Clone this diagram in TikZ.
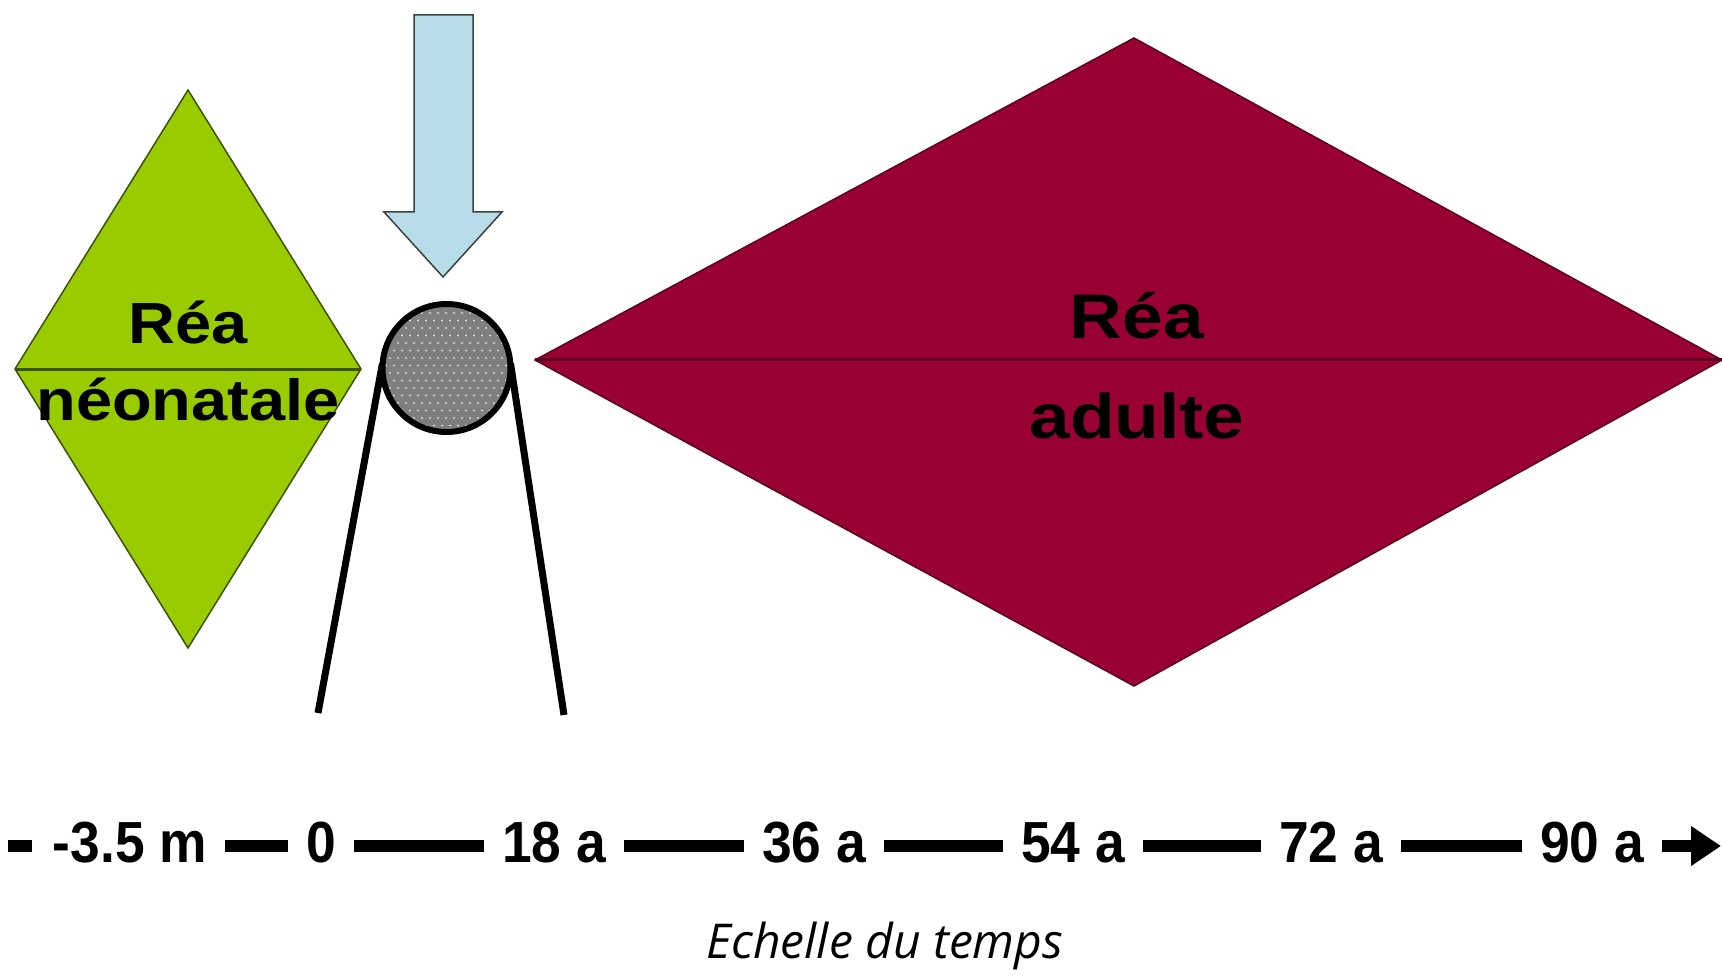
\documentclass[tikz,border=0pt]{standalone}
\usepackage{fontspec}
\setmainfont{Liberation Sans}
\newfontfamily\greenfont[FakeStretch=1.12]{Liberation Sans}
\newfontfamily\redfont[FakeStretch=1.16]{Liberation Sans}
\newfontfamily\tlfont[FakeStretch=0.92]{Liberation Sans}
\newfontfamily\capfont{Open Sans}
\usetikzlibrary{arrows.meta}
\definecolor{neogreen}{HTML}{99CC00}
\definecolor{neoedge}{HTML}{3D5200}
\definecolor{adred}{HTML}{990033}
\definecolor{adedge}{HTML}{5C0020}
\definecolor{arrblue}{HTML}{B7DEE8}
\definecolor{ballgray}{HTML}{7F7F7F}
\tikzset{
  greenlab/.style={font=\greenfont\bfseries\fontsize{58}{58}\selectfont, anchor=base, inner sep=0},
  redlab/.style={font=\redfont\bfseries\fontsize{63}{63}\selectfont, anchor=base, inner sep=0},
  tlab/.style={font=\tlfont\bfseries\fontsize{58}{58}\selectfont, anchor=base, inner xsep=18, inner ysep=0, text height=32, text depth=0},
  tline/.style={line width=12},
  leg/.style={line width=7},
}
\begin{document}
\begin{tikzpicture}[x=1pt,y=-1pt]
\useasboundingbox (0,0) rectangle (1722,976);
\fill[white] (0,0) rectangle (1722,976);

% green diamond
\draw[fill=neogreen, draw=neoedge, line width=1.5] (188,90) -- (361,369) -- (188,648) -- (15,369) -- cycle;
\draw[neoedge, line width=3] (15,369) -- (361,369);
\node[greenlab] (g1) at (188,344) {Réa};
\node[greenlab] (g2) at (188,420) {néonatale};

% red diamond
\draw[fill=adred, draw=adedge, line width=1.5] (1134,38) -- (1722,360) -- (1134,686) -- (535,360) -- cycle;
\draw[adedge, line width=3] (535,360) -- (1722,360);
\node[redlab] (r1) at (1137,339) {Réa};
\node[redlab] (r2) at (1137,438) {adulte};

% blue arrow
\draw[fill=arrblue, draw=black!75, line width=1.5] (414,15) -- (473,15) -- (473,212) -- (502,212) -- (443,277) -- (384,212) -- (414,212) -- cycle;

% ball and legs
\node[circle, minimum size=128, inner sep=0] (ball) at (446.5,368) {};
\coordinate (legL) at (318,713);
\coordinate (legR) at (564,715);
\draw[leg] (ball.176) -- (legL);
\draw[leg] (ball.4) -- (legR);
\begin{scope}
\clip (446.5,368) circle (64);
\fill[ballgray] (446.5,368) circle (64);
\foreach \j in {0,...,19}{
  \foreach \i in {0,...,18}{
    \fill[white] ({374+\i*8+4*mod(\j,2)},{298+\j*7.5}) circle (0.9);
  }
}
\end{scope}
\draw[line width=6] (ball) circle (64);

% timeline
\coordinate (d0) at (8,846);
\coordinate (d1) at (32,846);
\draw[tline] (d0) -- (d1);
\node[tlab] (lm) at (130,862) {-3.5 m};
\node[tlab] (l0) at (321,862) {0};
\node[tlab] (l18) at (554,862) {18 a};
\node[tlab] (l36) at (814,862) {36 a};
\node[tlab] (l54) at (1073,862) {54 a};
\node[tlab] (l72) at (1331,862) {72 a};
\node[tlab] (l90) at (1592,862) {90 a};
\coordinate (tend) at (1721,846);
\draw[tline] (lm) -- (l0);
\draw[tline] (l0) -- (l18);
\draw[tline] (l18) -- (l36);
\draw[tline] (l36) -- (l54);
\draw[tline] (l54) -- (l72);
\draw[tline] (l72) -- (l90);
\draw[tline, -{Triangle[length=30pt,width=38pt]}] (l90.east) -- (tend);

\node[font=\capfont\itshape\fontsize{48}{48}\selectfont, anchor=base] (cap) at (885,958) {Echelle du temps};
\end{tikzpicture}
\end{document}
